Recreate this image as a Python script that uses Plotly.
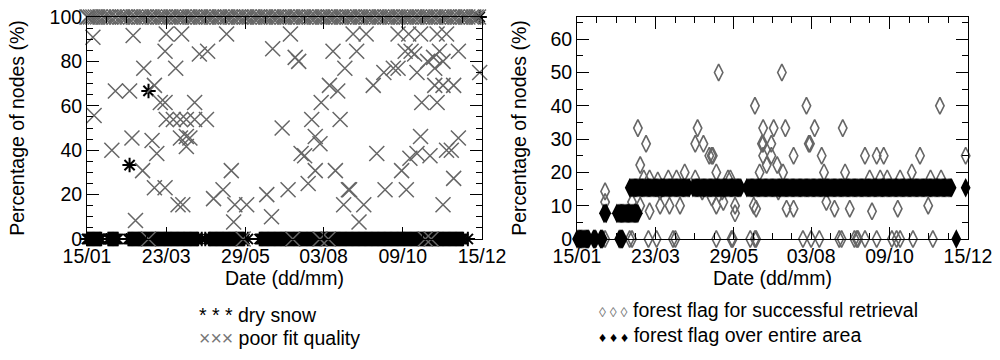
import plotly.graph_objects as go

# ---------------- shared axis labels (day of year) ----------------
tick_days = [15, 82, 149, 215, 282, 349]
tick_text = ["15/01", "23/03", "29/05", "03/08", "09/10", "15/12"]

# ---------------- left panel: dry snow (black asterisks) ----------------
dry_snow_zero_days = [15, 16, 17, 18, 19, 20, 21, 22, 23, 24, 25, 26, 27, 33, 34, 35, 36, 37, 38, 39, 40, 41,
                      50, 51, 52, 53, 54, 55, 56, 57, 58, 59, 60, 61, 62, 63, 64, 65, 66, 67, 68, 69, 70,
                      71, 72, 73, 74, 75, 76, 77, 78, 79, 80, 81, 82, 83, 84, 85, 86, 87, 88, 89, 90, 91,
                      92, 93, 94, 95, 96, 97, 98, 99, 100, 101, 102, 103, 104, 105, 106, 107, 108, 109,
                      112, 115, 118, 119, 120, 121, 122, 123, 124, 125, 126, 127, 128, 129, 130, 131, 132,
                      133, 134, 135, 136, 137, 138, 139, 140, 141, 142, 143, 144, 145, 146, 147, 148, 151,
                      161, 162, 163, 164, 165, 166, 167, 168, 169, 170, 171, 172, 173, 174, 175, 176, 177,
                      178, 179, 180, 181, 182, 183, 184, 185, 186, 187, 188, 189, 190, 191, 192, 193, 194,
                      195, 196, 197, 198, 199, 200, 201, 202, 203, 204, 205, 206, 207, 208, 209, 210, 211,
                      212, 213, 214, 215, 216, 217, 218, 219, 220, 221, 222, 223, 224, 225, 226, 227, 228,
                      229, 230, 231, 232, 233, 234, 235, 236, 237, 238, 239, 240, 241, 242, 243, 244, 245,
                      246, 247, 248, 249, 250, 251, 252, 253, 254, 255, 256, 257, 258, 259, 260, 261, 262,
                      263, 264, 265, 266, 267, 268, 269, 270, 271, 272, 273, 274, 275, 276, 277, 278, 279,
                      280, 281, 282, 283, 284, 285, 286, 287, 288, 289, 290, 291, 292, 293, 294, 295, 296,
                      297, 298, 299, 300, 301, 302, 303, 304, 305, 306, 307, 308, 309, 310, 311, 312, 313,
                      314, 315, 316, 317, 318, 319, 320, 321, 322, 323, 324, 325, 326, 327, 328, 329, 330,
                      331, 332, 333, 337]
dry_snow_other_days = [51, 67, 347]
dry_snow_other_vals = [33.3, 66.7, 100]

# ---------------- left panel: poor fit quality (grey crosses) ----------------
poor_fit_full_days = [15, 16, 18, 20, 22, 24, 26, 29, 31, 33, 35, 38, 40, 43, 45, 47, 49, 52, 54, 56,
                      59, 61, 63, 65, 68, 70, 72, 75, 77, 79, 81, 84, 86, 88, 91, 93, 95, 97, 100, 102,
                      104, 106, 109, 111, 113, 116, 118, 120, 122, 125, 127, 129, 132, 134, 136, 138,
                      141, 143, 145, 148, 150, 152, 155, 157, 159, 161, 164, 166, 168, 171, 173, 175,
                      177, 180, 182, 184, 187, 189, 191, 193, 196, 198, 200, 203, 205, 207, 209, 212,
                      214, 216, 219, 221, 223, 225, 228, 230, 232, 235, 237, 239, 241, 244, 246, 248,
                      251, 253, 255, 257, 260, 262, 264, 267, 269, 271, 273, 276, 278, 280, 283, 285,
                      287, 289, 292, 294, 296, 299, 301, 303, 305, 308, 310, 312, 315, 317, 319, 321,
                      324, 326, 328, 331, 333, 335, 337, 340, 342, 344, 346]
poor_fit_zero_days = [67, 147, 189, 212, 219, 301, 306]
poor_fit_other_days = [20, 54, 82, 95, 81, 110, 117, 63, 90, 72, 39, 51, 77, 81, 106, 21, 82, 88, 94, 99,
                       106, 116, 53, 70, 94, 99, 102, 99, 74, 36, 62, 72, 81, 92, 96, 122, 56,
                       133, 187, 172, 191, 194, 223, 233, 220, 227, 213, 205, 229, 180, 208, 212, 196,
                       199, 208, 225, 137, 202, 185, 130, 167, 236, 140, 150, 232, 139, 171,
                       240, 251, 278, 287, 297, 311, 319, 243, 284, 289, 292, 313, 329, 266, 274, 278,
                       294, 309, 316, 257, 309, 316, 325, 347, 298, 311, 297, 329, 260, 288, 294, 305,
                       319, 323, 281, 325, 237, 267, 285, 249, 316, 245, 303, 308]
poor_fit_other_vals = [90.9, 91.7, 92.3, 92.3, 84.6, 83.3, 84.6, 76.9, 76.9, 69.2, 66.7, 66.7, 61.5, 61.5,
                       61.5, 55.6, 53.8, 53.8, 53.8, 53.8, 53.8, 53.8, 45.5, 44.4, 45.5, 46.2, 45.5,
                       41.7, 38.5, 40.0, 30.8, 23.1, 23.1, 15.4, 15.4, 18.2, 8.3,
                       92.3, 92.3, 85.7, 81.8, 80.0, 84.6, 76.9, 69.2, 66.7, 61.5, 53.8, 53.8, 50.0,
                       46.2, 42.9, 38.5, 37.5, 30.8, 30.8, 30.8, 25.0, 22.2, 22.2, 20.0, 22.2, 15.4,
                       15.4, 15.4, 7.7, 10.0,
                       92.3, 92.3, 92.3, 92.3, 92.3, 92.3, 92.3, 84.6, 84.6, 84.6, 83.3, 84.6, 84.6,
                       75.0, 76.9, 76.9, 75.0, 76.9, 80.0, 69.2, 69.2, 69.2, 69.2, 75.0, 61.5, 61.5,
                       46.2, 45.5, 38.5, 36.4, 38.5, 37.5, 40.0, 40.0, 30.8, 27.3, 22.2, 22.2, 22.2,
                       15.4, 15.4, 7.7, 80.0, 81.8]

# ---------------- right panel: forest flag over entire area (black diamonds) ----------------
forest_all_zero_days = [15, 16, 17, 18, 19, 20, 21, 22, 23, 24, 25, 29, 30, 31, 35, 36, 37, 51, 52, 53, 54, 339]
forest_all_low_days = [38, 39, 40, 49, 50, 51, 52, 53, 54, 55, 56, 57, 58, 59, 60, 61, 62, 63, 64, 65, 66, 67]
forest_all_high_days = [60, 61, 62, 63, 64, 65, 66, 67, 68, 69, 70, 71, 72, 73, 74, 75, 76, 77, 78, 79, 80,
                        81, 82, 83, 84, 85, 86, 87, 88, 89, 90, 91, 92, 93, 94, 95, 96, 97, 98, 99, 100,
                        101, 102, 103, 104, 105, 106, 107, 108, 109, 110, 111, 114, 115, 116, 117, 118,
                        119, 120, 121, 122, 123, 124, 125, 126, 127, 128, 129, 130, 131, 132, 133, 134,
                        135, 136, 137, 138, 139, 140, 141, 142, 143, 144, 145, 146, 147, 148, 149, 150,
                        151, 152, 153, 154, 155, 160, 161, 162, 163, 164, 165, 166, 167, 168, 169, 170,
                        171, 172, 173, 174, 175, 176, 177, 178, 179, 180, 181, 182, 183, 184, 185, 186,
                        187, 188, 189, 190, 191, 192, 193, 194, 195, 196, 197, 198, 199, 200, 201, 202,
                        203, 204, 205, 206, 207, 208, 209, 210, 211, 212, 213, 214, 215, 216, 217, 218,
                        219, 220, 221, 222, 223, 224, 225, 226, 227, 228, 229, 230, 231, 232, 233, 234,
                        235, 236, 237, 238, 239, 240, 241, 242, 243, 244, 245, 246, 247, 248, 249, 250,
                        251, 252, 253, 254, 255, 256, 257, 258, 259, 260, 261, 262, 263, 264, 265, 266,
                        267, 268, 269, 270, 271, 272, 273, 274, 275, 276, 277, 278, 279, 280, 281, 282,
                        283, 284, 285, 286, 287, 288, 289, 290, 291, 292, 293, 294, 295, 296, 297, 298,
                        299, 300, 301, 302, 303, 304, 305, 306, 307, 308, 309, 310, 311, 312, 313, 314,
                        315, 316, 317, 318, 319, 320, 321, 322, 323, 324, 325, 326, 327, 328, 329, 330,
                        331, 332, 333, 334, 335, 347]
forest_all_low_val = 7.7
forest_all_high_val = 15.4

# ---------------- right panel: forest flag for successful retrieval (grey open diamonds) ----------------
forest_ok_zero_days = [39, 60, 62, 76, 83, 97, 99, 134, 147, 148, 163, 167, 168, 208, 215, 222, 239, 241,
                       252, 254, 255, 261, 271, 284, 288, 291, 302, 319]
forest_ok_days = [39, 39, 67, 74, 69, 72, 77, 69, 77, 62, 86, 94, 103, 86, 84, 93, 100, 107,
                  118, 116, 123, 128, 130, 131, 136, 134, 134, 140, 144, 146, 150, 150, 116, 122, 130, 139,
                  167, 166, 168, 171, 174, 173, 174, 174, 183, 181, 181, 186, 191, 194, 190, 193, 200, 200,
                  187, 177, 211, 213, 214, 218, 215, 224, 226, 228, 235, 242, 244, 248, 258, 261, 265,
                  267, 271, 277, 274, 280, 289, 291, 298, 301, 308, 315, 317, 325, 326, 347]
forest_ok_vals = [14.3, 11.1, 33.3, 28.6, 22.2, 18.2, 18.2, 10.0, 8.3, 11.1, 10.0, 10.0, 10.0, 14.3,
                  17.6, 18.2, 18.2, 20.0,
                  33.3, 28.6, 28.6, 25.0, 25.0, 25.0, 50.0, 20.0, 10.0, 11.1, 18.2, 18.2, 10.0, 7.7,
                  18.2, 14.3, 12.5, 14.3,
                  40.0, 10.0, 9.1, 20.0, 33.3, 28.6, 28.6, 25.0, 33.3, 28.6, 25.0, 22.2, 20.0, 9.1,
                  50.0, 33.3, 25.0, 9.1, 14.3, 22.2, 40.0, 28.6, 28.6, 33.3, 66.7, 25.0, 20.0, 11.1,
                  9.1, 33.3, 20.0, 9.1, 66.7, 25.0, 18.2, 8.3, 25.0, 25.0, 18.2, 18.2, 9.1, 18.2,
                  66.7, 20.0, 25.0, 10.0, 18.2, 40.0, 18.2, 25.0]

GREY = "#666666"
FONT = "Liberation Sans, Arial, Helvetica, sans-serif"
FS = 19.5

fig = go.Figure()

# left panel
fig.add_trace(go.Scatter(
    x=dry_snow_zero_days + dry_snow_other_days,
    y=[0] * len(dry_snow_zero_days) + dry_snow_other_vals,
    mode="markers", cliponaxis=False, showlegend=False,
    marker=dict(symbol="asterisk-open", size=12, color="black", line=dict(color="black", width=2)),
    xaxis="x", yaxis="y"))
fig.add_trace(go.Scatter(
    x=poor_fit_full_days + poor_fit_zero_days + poor_fit_other_days,
    y=[100] * len(poor_fit_full_days) + [0] * len(poor_fit_zero_days) + poor_fit_other_vals,
    mode="markers", cliponaxis=False, showlegend=False,
    marker=dict(symbol="x-thin-open", size=15, color=GREY, line=dict(color=GREY, width=1.5)),
    xaxis="x", yaxis="y"))

# right panel
fig.add_trace(go.Scatter(
    x=forest_ok_zero_days + forest_ok_days,
    y=[0] * len(forest_ok_zero_days) + forest_ok_vals,
    mode="markers", cliponaxis=False, showlegend=False,
    marker=dict(symbol="diamond-tall-open", size=12, color=GREY, line=dict(color=GREY, width=1.6)),
    xaxis="x2", yaxis="y2"))
fig.add_trace(go.Scatter(
    x=forest_all_zero_days + forest_all_low_days + forest_all_high_days,
    y=[0] * len(forest_all_zero_days) + [forest_all_low_val] * len(forest_all_low_days)
      + [forest_all_high_val] * len(forest_all_high_days),
    mode="markers", cliponaxis=False, showlegend=False,
    marker=dict(symbol="diamond-tall", size=14, color="black", line=dict(width=0)),
    xaxis="x2", yaxis="y2"))

minor_x = []
for a, b in zip(tick_days[:-1], tick_days[1:]):
    minor_x += [a + (b - a) * k / 4 for k in (1, 2, 3)]

axis_common = dict(showline=True, linecolor="black", linewidth=1, mirror="allticks",
                   ticks="inside", ticklen=12, tickwidth=1, tickcolor="black",
                   showgrid=False, zeroline=False, automargin=False,
                   tickfont=dict(family=FONT, size=FS, color="black"))

xcommon = dict(axis_common, range=[15, 349], tickmode="array", tickvals=tick_days, ticktext=tick_text,
               minor=dict(tickmode="array", tickvals=minor_x, ticks="inside", ticklen=6,
                          tickcolor="black", showgrid=False),
               title=dict(text="Date (dd/mm)", font=dict(family=FONT, size=FS, color="black"), standoff=2))

fig.update_layout(
    width=1000, height=360,
    margin=dict(l=87, r=32, t=17, b=121, autoexpand=False),
    paper_bgcolor="white", plot_bgcolor="white",
    font=dict(family=FONT, size=FS, color="black"),
    xaxis=dict(xcommon, domain=[0, 0.4484], anchor="y"),
    xaxis2=dict(xcommon, domain=[0.5562, 1], anchor="y2"),
    yaxis=dict(axis_common, range=[0, 100], tickmode="array", tickvals=[0, 20, 40, 60, 80, 100],
               minor=dict(dtick=5, tick0=0, ticks="inside", ticklen=6, tickcolor="black", showgrid=False),
               title=dict(text="Percentage of nodes (%)", font=dict(family=FONT, size=FS, color="black"),
                          standoff=19),
               anchor="x"),
    yaxis2=dict(axis_common, range=[0, 66.67], tickmode="array", tickvals=[0, 10, 20, 30, 40, 50, 60],
                minor=dict(dtick=5, tick0=0, ticks="inside", ticklen=6, tickcolor="black", showgrid=False),
                title=dict(text="Percentage of nodes (%)", font=dict(family=FONT, size=FS, color="black"),
                           standoff=18),
                anchor="x2"),
)

legend_items = [
    (0.1249, -0.342, "* * * dry snow"),
    (0.1249, -0.446, '<span style="color:#777777">×××</span> poor fit quality'),
    (0.5789, -0.320, '<span style="color:#777777;font-size:14px">◊ ◊ ◊</span> forest flag for successful retrieval'),
    (0.5789, -0.432, '<span style="font-size:14px">♦ ♦ ♦</span> forest flag over entire area'),
]
for lx, ly, txt in legend_items:
    fig.add_annotation(x=lx, y=ly, xref="paper", yref="paper", text=txt, showarrow=False,
                       xanchor="left", yanchor="middle", align="left",
                       font=dict(family=FONT, size=FS, color="black"))

# remove the browser's default 8 px body margin so the figure sits at the page origin
fig.write_html("out.html", config={"displayModeBar": False},
               post_script="document.body.style.margin='0px';")
